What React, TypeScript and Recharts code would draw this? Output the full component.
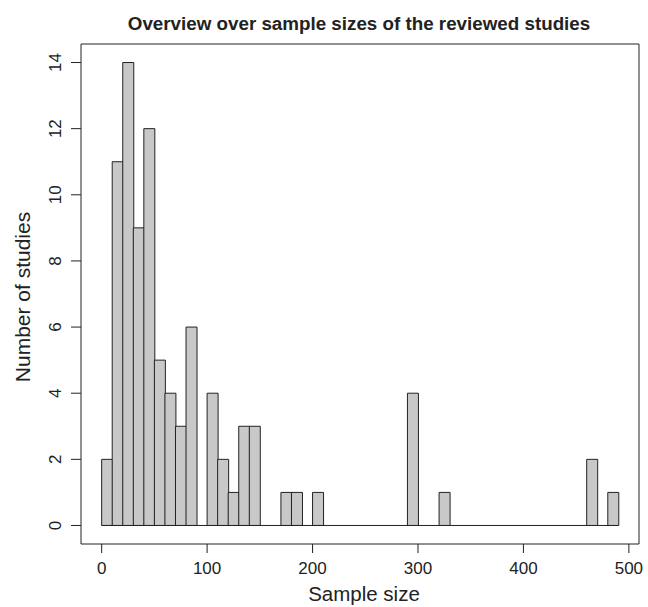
import React from 'react'
import { ComposedChart, Bar, XAxis, YAxis, ReferenceArea, ReferenceLine } from 'recharts'

// histogram bins, width 10 (left edge 0..480)
const binStarts = [
  0, 10, 20, 30, 40, 50, 60, 70, 80, 90,
  100, 110, 120, 130, 140, 150, 160, 170, 180, 190,
  200, 210, 220, 230, 240, 250, 260, 270, 280, 290,
  300, 310, 320, 330, 340, 350, 360, 370, 380, 390,
  400, 410, 420, 430, 440, 450, 460, 470, 480,
]
const studyCounts = [
  2, 11, 14, 9, 12, 5, 4, 3, 6, 0,
  4, 2, 1, 3, 3, 0, 0, 1, 1, 0,
  1, 0, 0, 0, 0, 0, 0, 0, 0, 4,
  0, 0, 1, 0, 0, 0, 0, 0, 0, 0,
  0, 0, 0, 0, 0, 0, 2, 0, 1,
]
const xTicks = [0, 100, 200, 300, 400, 500]
const yTicks = [0, 2, 4, 6, 8, 10, 12, 14]

const binWidth = 10
const data = binStarts.map((s, i) => ({ mid: s + binWidth / 2, count: studyCounts[i] }))

const FONT = '"Liberation Sans", Arial, Helvetica, sans-serif'
const INK = '#222222'

const YTick = (props: any) => {
  const { x, y, payload } = props
  const bx = x - 8
  return (
    <text
      x={bx}
      y={y}
      transform={`rotate(-90 ${bx} ${y})`}
      textAnchor="middle"
      fontSize={17}
      fontFamily={FONT}
      fill={INK}
    >
      {payload.value}
    </text>
  )
}

export default function App() {
  return (
    <div style={{ position: 'absolute', left: 0, top: 0, width: 648, height: 607, background: '#fff' }}>
      <ComposedChart
        width={648}
        height={607}
        data={data}
        margin={{ top: 44, right: 9, bottom: 0, left: 0 }}
        barCategoryGap={0}
        barGap={0}
      >
        <XAxis
          type="number"
          dataKey="mid"
          domain={[-19.6, 509.6]}
          allowDataOverflow
          ticks={xTicks}
          interval={0}
          height={63}
          tickSize={9}
          tickMargin={9}
          axisLine={false}
          tickLine={{ stroke: INK }}
          tick={{ fontSize: 17, fontFamily: FONT, fill: INK }}
        />
        <YAxis
          type="number"
          domain={[-0.56, 14.56]}
          allowDataOverflow
          ticks={yTicks}
          interval={0}
          width={81}
          tickSize={10}
          axisLine={false}
          tickLine={{ stroke: INK }}
          tick={<YTick />}
        />
        <ReferenceArea
          x1={-19.6}
          x2={509.6}
          y1={-0.56}
          y2={14.56}
          fill="none"
          stroke={INK}
          strokeWidth={1}
          ifOverflow="visible"
        />
        <ReferenceLine
          segment={[{ x: 0, y: 0 }, { x: 490, y: 0 }]}
          stroke={INK}
          strokeWidth={1}
        />
        <Bar
          dataKey="count"
          fill="#c8c8c8"
          stroke={INK}
          strokeWidth={1}
          isAnimationActive={false}
        />
        <text x={359} y={30} textAnchor="middle" fontSize={18.8} fontWeight="bold" fontFamily={FONT} fill={INK}>
          Overview over sample sizes of the reviewed studies
        </text>
        <text x={364} y={601} textAnchor="middle" fontSize={20.5} fontFamily={FONT} fill={INK}>
          Sample size
        </text>
        <text
          x={30}
          y={297}
          transform="rotate(-90 30 297)"
          textAnchor="middle"
          fontSize={21}
          fontFamily={FONT}
          fill={INK}
        >
          Number of studies
        </text>
      </ComposedChart>
    </div>
  )
}
